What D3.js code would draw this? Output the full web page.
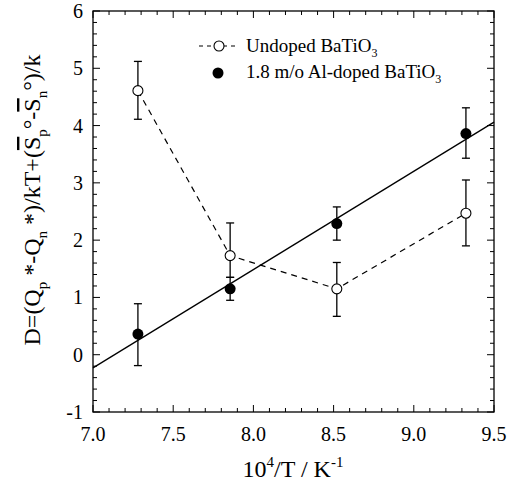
<!DOCTYPE html>
<html>
<head>
<meta charset="utf-8">
<script src="https://cdn.jsdelivr.net/npm/d3@7"></script>
<style>
  body { margin: 0; background: #fff; }
</style>
</head>
<body>
<div id="chart"></div>
<script>
// x values (10^4/T) shared by both series
var xValues = [7.28, 7.855, 8.52, 9.325];

// Undoped BaTiO3 (open circles, dashed)
var undopedY = [4.61, 1.73, 1.15, 2.47];
var undopedHi = [5.12, 2.30, 1.61, 3.05];
var undopedLo = [4.11, 1.35, 0.67, 1.90];

// 1.8 m/o Al-doped BaTiO3 (filled circles)
var dopedY = [0.36, 1.15, 2.29, 3.86];
var dopedHi = [0.89, 1.35, 2.58, 4.31];
var dopedLo = [-0.19, 0.95, 2.00, 3.43];

// linear fit through the doped points
var fitX = [7.0, 9.5];
var fitY = [-0.23, 4.06];

var xTicks = [7.0, 7.5, 8.0, 8.5, 9.0, 9.5];
var yTicks = [-1, 0, 1, 2, 3, 4, 5, 6];

var serif = "'Liberation Serif'";

function init() {
    var w = 507, h = 487;
    var left = 93, right = 494, top = 11, bottom = 412;

    var x = d3.scaleLinear().domain([7.0, 9.5]).range([left, right]);
    var y = d3.scaleLinear().domain([-1, 6]).range([bottom, top]);

    var svg = d3.select("#chart").append("svg")
        .attr("width", w)
        .attr("height", h);

    // minor / major ticks on all four sides (pointing inward)
    var xMinor = d3.range(70, 96, 1).map(function(d) { return d / 10; });
    var yMinor = d3.range(-5, 31, 1).map(function(d) { return d / 5; });

    function tickX(g, yPos, dir) {
        g.selectAll("line.minor").data(xMinor).enter().append("line")
            .attr("x1", function(d) { return x(d); })
            .attr("x2", function(d) { return x(d); })
            .attr("y1", yPos)
            .attr("y2", function(d) {
                var major = Math.abs(d * 2 - Math.round(d * 2)) < 1e-6;
                return yPos + dir * (major ? 7 : 4);
            })
            .attr("stroke", "#000").attr("stroke-width", 1);
    }
    function tickY(g, xPos, dir) {
        g.selectAll("line.minor").data(yMinor).enter().append("line")
            .attr("y1", function(d) { return y(d); })
            .attr("y2", function(d) { return y(d); })
            .attr("x1", xPos)
            .attr("x2", function(d) {
                var major = Math.abs(d - Math.round(d)) < 1e-6;
                return xPos + dir * (major ? 7 : 4);
            })
            .attr("stroke", "#000").attr("stroke-width", 1);
    }
    tickX(svg.append("g"), bottom, -1);
    tickX(svg.append("g"), top, 1);
    tickY(svg.append("g"), left, 1);
    tickY(svg.append("g"), right, -1);

    // frame
    svg.append("rect")
        .attr("x", left).attr("y", top)
        .attr("width", right - left).attr("height", bottom - top)
        .attr("fill", "none").attr("stroke", "#000").attr("stroke-width", 1.3);

    // tick labels
    svg.selectAll("text.xl").data(xTicks).enter().append("text")
        .attr("x", function(d) { return x(d); })
        .attr("y", 441)
        .attr("text-anchor", "middle")
        .style("font-family", serif)
        .style("font-size", "20px")
        .text(function(d) { return d.toFixed(1); });

    svg.selectAll("text.yl").data(yTicks).enter().append("text")
        .attr("x", 83)
        .attr("y", function(d) { return y(d) + 7; })
        .attr("text-anchor", "end")
        .style("font-family", serif)
        .style("font-size", "20px")
        .text(function(d) { return d; });

    // axis titles
    var xt = svg.append("text")
        .attr("x", 293).attr("y", 477)
        .attr("text-anchor", "middle")
        .style("font-family", serif)
        .style("font-size", "24px");
    xt.append("tspan").text("10");
    xt.append("tspan").attr("dy", -10).style("font-size", "15px").text("4");
    xt.append("tspan").attr("dy", 10).text("/T / K");
    xt.append("tspan").attr("dy", -10).style("font-size", "15px").text("-1");

    var yt = svg.append("text")
        .attr("transform", "translate(40," + 200 + ") rotate(-90)")
        .attr("text-anchor", "middle")
        .style("font-family", serif)
        .style("font-size", "24px");
    yt.append("tspan").text("D=(Q");
    yt.append("tspan").attr("dy", 7).style("font-size", "15px").text("p");
    yt.append("tspan").attr("dy", -7).text(" *-Q");
    yt.append("tspan").attr("dy", 7).style("font-size", "15px").text("n");
    yt.append("tspan").attr("dy", -7).text(" *)/kT+(");
    yt.append("tspan").style("text-decoration", "overline").text("S");
    yt.append("tspan").attr("dy", 7).style("font-size", "15px").text("p");
    yt.append("tspan").attr("dy", -7).text("°-");
    yt.append("tspan").style("text-decoration", "overline").text("S");
    yt.append("tspan").attr("dy", 7).style("font-size", "15px").text("n");
    yt.append("tspan").attr("dy", -7).text("°)/k");

    // fit line
    var fitData = fitX.map(function(d, i) { return [d, fitY[i]]; });
    svg.append("path")
        .datum(fitData)
        .attr("d", d3.line().x(function(d) { return x(d[0]); }).y(function(d) { return y(d[1]); }))
        .attr("fill", "none").attr("stroke", "#000").attr("stroke-width", 1.3);

    var undoped = xValues.map(function(d, i) {
        return { x: d, y: undopedY[i], hi: undopedHi[i], lo: undopedLo[i] };
    });
    var doped = xValues.map(function(d, i) {
        return { x: d, y: dopedY[i], hi: dopedHi[i], lo: dopedLo[i] };
    });

    // dashed line for undoped
    svg.append("path")
        .datum(undoped)
        .attr("d", d3.line().x(function(d) { return x(d.x); }).y(function(d) { return y(d.y); }))
        .attr("fill", "none").attr("stroke", "#000").attr("stroke-width", 1.2)
        .attr("stroke-dasharray", "6,5");

    // error bars
    function errorBars(data) {
        var g = svg.append("g").attr("stroke", "#000").attr("stroke-width", 1.3);
        data.forEach(function(d) {
            g.append("line").attr("x1", x(d.x)).attr("x2", x(d.x))
                .attr("y1", y(d.hi)).attr("y2", y(d.lo));
            [d.hi, d.lo].forEach(function(v) {
                g.append("line").attr("x1", x(d.x) - 4).attr("x2", x(d.x) + 4)
                    .attr("y1", y(v)).attr("y2", y(v));
            });
        });
    }
    errorBars(undoped);
    errorBars(doped);

    svg.selectAll("circle.open").data(undoped).enter().append("circle")
        .attr("cx", function(d) { return x(d.x); })
        .attr("cy", function(d) { return y(d.y); })
        .attr("r", 5)
        .attr("fill", "#fff").attr("stroke", "#000").attr("stroke-width", 1.1);

    svg.selectAll("circle.filled").data(doped).enter().append("circle")
        .attr("cx", function(d) { return x(d.x); })
        .attr("cy", function(d) { return y(d.y); })
        .attr("r", 5.5)
        .attr("fill", "#000");

    // legend
    var lg = svg.append("g");
    lg.append("line").attr("x1", 199).attr("x2", 235).attr("y1", 46).attr("y2", 46)
        .attr("stroke", "#000").attr("stroke-width", 1.2).attr("stroke-dasharray", "4,4");
    lg.append("circle").attr("cx", 219).attr("cy", 46).attr("r", 5)
        .attr("fill", "#fff").attr("stroke", "#000").attr("stroke-width", 1.1);
    var t1 = lg.append("text").attr("x", 246).attr("y", 52)
        .style("font-family", serif).style("font-size", "19px");
    t1.append("tspan").text("Undoped BaTiO");
    t1.append("tspan").attr("dy", 5).style("font-size", "12px").text("3");

    lg.append("circle").attr("cx", 218).attr("cy", 73).attr("r", 5.5).attr("fill", "#000");
    var t2 = lg.append("text").attr("x", 246).attr("y", 78)
        .style("font-family", serif).style("font-size", "19px");
    t2.append("tspan").text("1.8 m/o Al-doped BaTiO");
    t2.append("tspan").attr("dy", 5).style("font-size", "12px").text("3");
}

window.onload = init;
</script>
</body>
</html>
